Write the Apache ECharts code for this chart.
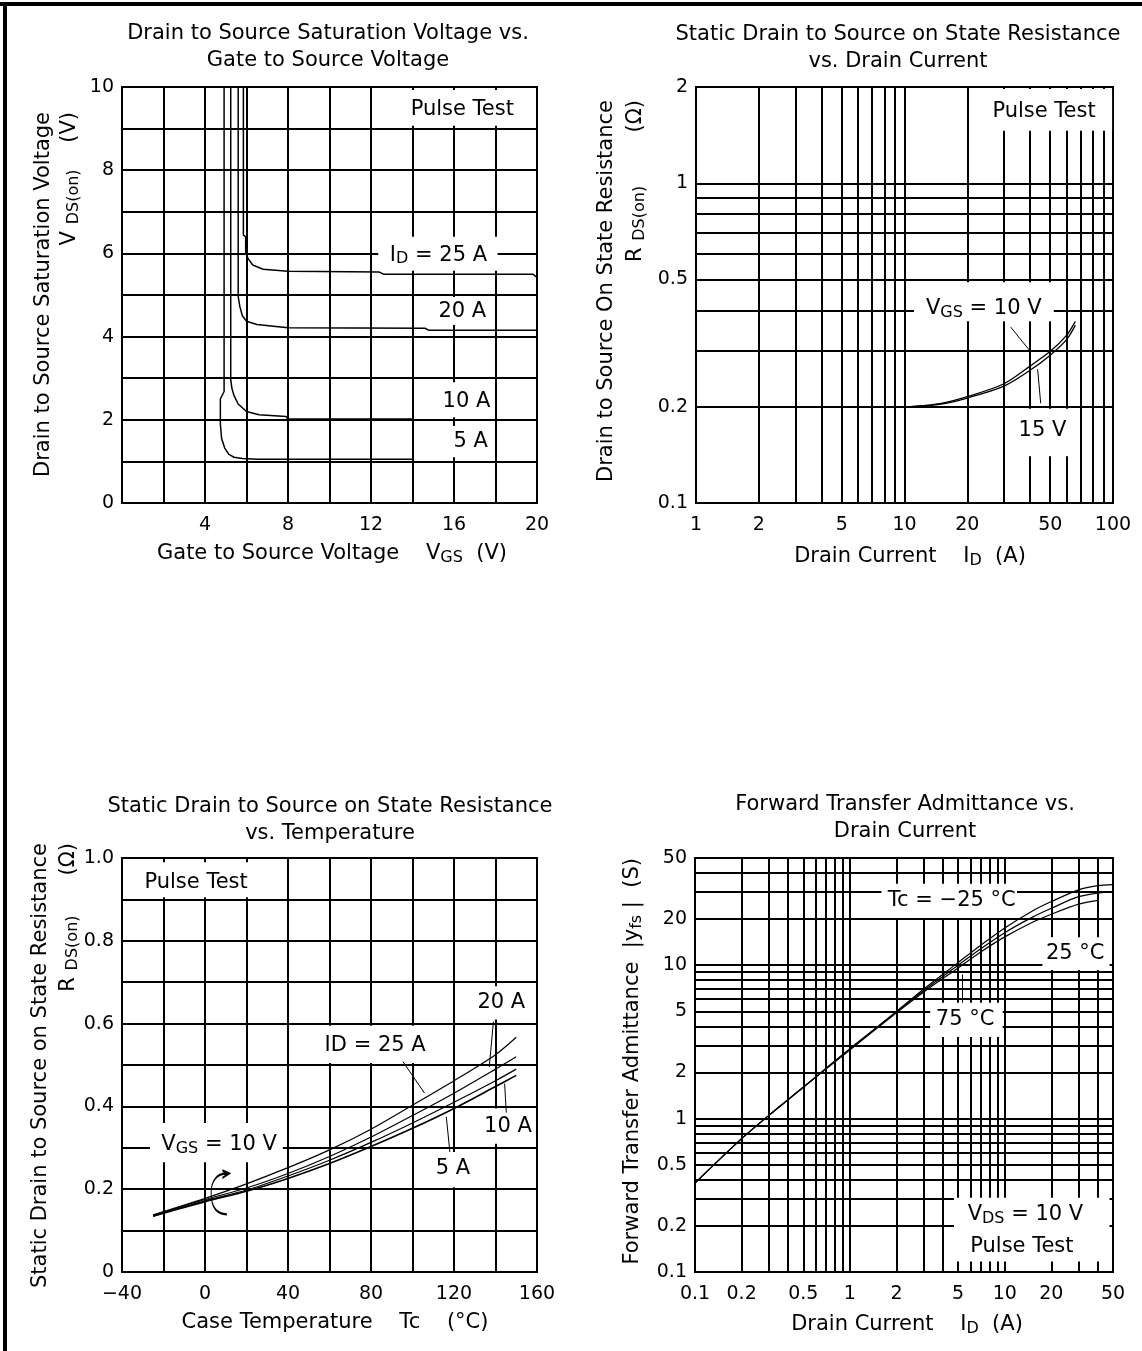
<!DOCTYPE html>
<html>
<head>
<meta charset="utf-8">
<script src="https://cdn.jsdelivr.net/npm/echarts@6/dist/echarts.min.js"></script>
<style>
  html, body { margin: 0; padding: 0; background: #fff; }
  #main { width: 1142px; height: 1351px; }
</style>
</head>
<body>
<div id="main"></div>
<script>
// ---- chart 1: VDS(on) vs VGS, [VGS (V), VDS(on) (V)]
var satId5 = [[4.92,10],[4.92,2.68],[4.74,2.5],[4.74,1.9],[4.8,1.55],[4.95,1.32],[5.15,1.17],[5.4,1.1],[5.8,1.07],[6.5,1.05],[14,1.05]];
var satId10 = [[5.24,10],[5.24,2.96],[5.3,2.75],[5.4,2.58],[5.6,2.38],[6.0,2.2],[6.6,2.12],[7.9,2.08],[8,2.02],[14,2.02]];
var satId20 = [[5.6,10],[5.6,4.96],[5.68,4.72],[5.8,4.5],[6.0,4.37],[6.5,4.29],[7.3,4.25],[8,4.21],[14.6,4.2],[14.8,4.15],[20,4.15]];
var satId25 = [[5.85,10],[5.85,6.44],[5.96,6.4],[5.96,6.04],[6.07,5.88],[6.3,5.72],[6.8,5.62],[8,5.57],[12.4,5.55],[12.6,5.5],[19.8,5.5],[20,5.42]];
var satXLabels = [4, 8, 12, 16, 20];
var satYLabels = [0, 2, 4, 6, 8, 10];

// ---- chart 2: RDS(on) vs ID, [ID (A), RDS(on) (ohm)]
var ronVgs10 = [[10.7,0.2],[15,0.205],[20,0.215],[30,0.236],[40,0.268],[50,0.298],[60,0.335],[66,0.37]];
var ronVgs15 = [[10.7,0.2],[15,0.204],[20,0.213],[30,0.232],[40,0.26],[50,0.29],[60,0.325],[66,0.36]];
var ronXLines = [1,2,3,4,5,6,7,8,9,10,20,30,40,50,60,70,80,90,100];
var ronYLines = [0.1,0.2,0.3,0.4,0.5,0.6,0.7,0.8,0.9,1,2];
var ronXLabels = [1, 2, 5, 10, 20, 50, 100];
var ronYLabels = [0.1, 0.2, 0.5, 1, 2];

// ---- chart 3: RDS(on) vs Tc, [Tc (degC), RDS(on) (ohm)]
var tempId5 = [[-25,0.135],[0,0.17],[20,0.195],[40,0.226],[60,0.262],[80,0.303],[100,0.347],[120,0.395],[140,0.448],[150,0.475]];
var tempId10 = [[-25,0.135],[0,0.172],[20,0.198],[40,0.232],[60,0.27],[80,0.313],[100,0.36],[120,0.41],[140,0.462],[150,0.49]];
var tempId20 = [[-25,0.137],[0,0.175],[20,0.203],[40,0.238],[60,0.279],[80,0.326],[100,0.378],[120,0.432],[140,0.49],[150,0.52]];
var tempId25 = [[-25,0.138],[0,0.178],[20,0.213],[40,0.252],[60,0.295],[80,0.345],[100,0.403],[120,0.462],[140,0.525],[150,0.567]];
var tempXLabels = [-40, 0, 40, 80, 120, 160];
var tempYLabels = [0, 0.2, 0.4, 0.6, 0.8, 1.0];

// ---- chart 4: |yfs| vs ID, [ID (A), |yfs| (S)]
var yfsTcM25 = [[0.1,0.38],[0.2,0.74],[0.3,1.05],[0.5,1.6],[1,2.85],[2,5.0],[3,7.0],[5,10.4],[7,13.5],[10,17.5],[15,22.5],[20,26],[30,31],[40,33],[50,33.5]];
var yfsTc25 = [[0.1,0.38],[0.2,0.74],[0.3,1.05],[0.5,1.6],[1,2.85],[2,4.95],[3,6.85],[5,10.0],[7,12.8],[10,16.3],[15,20.5],[20,23.5],[30,28],[45,30]];
var yfsTc75 = [[0.1,0.38],[0.2,0.74],[0.3,1.05],[0.5,1.6],[1,2.8],[2,4.9],[3,6.7],[5,9.6],[7,12.2],[10,15.3],[15,19],[20,21.5],[30,25],[40,26.5]];
var yfsXLines = [0.1,0.2,0.3,0.4,0.5,0.6,0.7,0.8,0.9,1,2,3,4,5,6,7,8,9,10,20,30,40,50];
var yfsYLines = [0.1,0.2,0.3,0.4,0.5,0.6,0.7,0.8,0.9,1,2,3,4,5,6,7,8,9,10,20,30,40,50];
var yfsXLabels = [0.1, 0.2, 0.5, 1, 2, 5, 10, 20, 50];
var yfsYLabels = [0.1, 0.2, 0.5, 1, 2, 5, 10, 20, 50];

var FONT = '"DejaVu Sans", sans-serif';
var FS = 21;       // titles, axis names, notes
var TICK_FS = 19;  // tick labels
var RICH = {
  n: { fontFamily: FONT, fontSize: FS, color: '#000' },
  s: { fontFamily: FONT, fontSize: 16, color: '#000', padding: [8, 0, 0, 0] }
};
var GRIDLINE = { color: '#000', width: 2 };

function labelStyle(values, margin, fmt) {
  return { customValues: values, color: '#000', fontFamily: FONT, fontSize: TICK_FS, margin: margin, formatter: fmt };
}

function linAxis(gi, min, max, step, labels, margin, fmt) {
  return {
    type: 'value', gridIndex: gi, min: min, max: max, interval: step,
    axisLine: { show: false }, axisTick: { show: false },
    splitLine: { show: true, lineStyle: GRIDLINE },
    axisLabel: labelStyle(labels, margin, fmt)
  };
}

function logAxis(gi, min, max, lines, labels, margin) {
  return {
    type: 'log', logBase: 10, gridIndex: gi, min: min, max: max,
    axisLine: { show: false },
    axisTick: { show: false, customValues: lines },
    splitLine: { show: true, lineStyle: GRIDLINE },
    axisLabel: labelStyle(labels, margin, function (v) { return String(v); })
  };
}

function curve(gi, data, width, smooth) {
  return {
    type: 'line', xAxisIndex: gi, yAxisIndex: gi, data: data, z: 3,
    showSymbol: false, symbol: 'none', smooth: smooth || false, silent: true,
    lineStyle: { color: '#000', width: width }
  };
}

// white label boxes, texts and leader arrows (all in data coordinates)
function notes(gi, boxes, texts, arrows) {
  return [
    {
      type: 'line', xAxisIndex: gi, yAxisIndex: gi, data: [], z: 1, silent: true,
      markArea: {
        silent: true, itemStyle: { color: '#fff' }, label: { show: false },
        data: boxes.map(function (b) { return [{ coord: [b[0], b[1]] }, { coord: [b[2], b[3]] }]; })
      }
    },
    {
      type: 'line', xAxisIndex: gi, yAxisIndex: gi, data: [], z: 5, silent: true,
      markPoint: {
        symbol: 'circle', symbolSize: 0, silent: true,
        label: { show: true, position: 'inside', color: '#000', fontFamily: FONT, fontSize: FS, rich: RICH },
        data: texts.map(function (t) { return { coord: [t[0], t[1]], label: { formatter: t[2] } }; })
      },
      markLine: {
        silent: true, symbol: ['none', 'arrow'], symbolSize: [0, 8], label: { show: false },
        lineStyle: { color: '#000', width: 1, type: 'solid' },
        data: arrows.map(function (a) { return [{ coord: [a[0], a[1]] }, { coord: [a[2], a[3]] }]; })
      }
    }
  ];
}

function txt(x, y, text, opts) {
  opts = opts || {};
  return {
    type: 'text', x: x, y: y, rotation: opts.rot || 0, z: 10,
    style: {
      text: text, fill: '#000', font: FS + 'px ' + FONT, rich: RICH,
      align: opts.align || 'center', verticalAlign: 'middle', lineHeight: opts.lh || 27
    }
  };
}

var chart = echarts.init(document.getElementById('main'), null, { renderer: 'canvas' });

var series = [
  curve(0, satId5, 1.5), curve(0, satId10, 1.5), curve(0, satId20, 1.5), curve(0, satId25, 1.5),
  curve(1, ronVgs10, 1.3, 0.3), curve(1, ronVgs15, 1.3, 0.3),
  curve(2, tempId5, 1.6, 0.3), curve(2, tempId10, 1.2, 0.3), curve(2, tempId20, 1.2, 0.3), curve(2, tempId25, 1.2, 0.3),
  curve(3, yfsTcM25, 1.2, 0.3), curve(3, yfsTc25, 1.2, 0.3), curve(3, yfsTc75, 1.2, 0.3)
];

series = series.concat(notes(0,
  [[13.8, 9.07, 19.0, 9.93], [12.35, 5.58, 18.1, 6.4], [14.8, 4.28, 17.9, 4.95], [15.3, 2.06, 17.9, 2.9], [15.7, 1.1, 17.9, 1.85]],
  [[16.4, 9.45, 'Pulse Test'], [15.25, 5.96, '{n|I}{s|D}{n| = 25 A}'], [16.4, 4.6, '20 A'], [16.6, 2.44, '10 A'], [16.8, 1.47, '5 A']],
  []));

series = series.concat(notes(1,
  [[27, 1.46, 99, 1.97], [11.1, 0.37, 52, 0.49], [37, 0.14, 65, 0.197]],
  [[46.7, 1.67, 'Pulse Test'], [24, 0.406, '{n|V}{s|GS}{n| = 10 V}'], [45.9, 0.169, '15 V']],
  [[32.3, 0.355, 40.3, 0.297], [45, 0.205, 43.5, 0.262]]));

series = series.concat(notes(2,
  [[-38, 0.905, 22, 0.99], [56, 0.505, 108, 0.595], [130, 0.61, 158, 0.69], [136, 0.31, 158, 0.395], [110, 0.205, 130, 0.29], [-26.5, 0.265, 37.5, 0.36]],
  [[-4.3, 0.94, 'Pulse Test'], [82, 0.548, 'ID = 25 A'], [142.8, 0.652, '20 A'], [146, 0.351, '10 A'], [119.5, 0.251, '5 A'], [6.8, 0.307, '{n|V}{s|GS}{n| = 10 V}']],
  [[95.4, 0.508, 105.8, 0.432], [139, 0.605, 137, 0.495], [145.2, 0.385, 144.4, 0.455], [118, 0.29, 116.3, 0.375]]));

series = series.concat(notes(3,
  [[1.6, 20.3, 12, 34], [17.5, 9.3, 47.5, 15.2], [3.3, 3.4, 9.7, 5.7], [4.7, 0.117, 47.5, 0.305]],
  [[4.55, 26.5, 'Tc = \u221225 \u00b0C'], [28.5, 11.9, '25 \u00b0C'], [5.55, 4.4, '75 \u00b0C'], [13.6, 0.236, '{n|V}{s|DS}{n| = 10 V}'], [12.9, 0.147, 'Pulse Test']],
  [[6.1, 20.3, 6.1, 13.6], [5.3, 5.7, 5.3, 8.7]]));

// loop marker around the VGS = 10 V curves of chart 3
series.push({
  type: 'line', xAxisIndex: 2, yAxisIndex: 2, data: [], z: 5, silent: true,
  markPoint: {
    silent: true,
    symbol: 'path://M16,4 C6,4 2,12 2,22 C2,34 6,42 16,42 M12,1 L18,4 L12,8',
    symbolSize: [18, 44], symbolKeepAspect: false,
    itemStyle: { color: 'rgba(0,0,0,0)', borderColor: '#000', borderWidth: 1.5 },
    label: { show: false },
    data: [{ coord: [7.3, 0.1925] }]
  }
});

var option = {
  backgroundColor: '#fff',
  animation: false,
  grid: [
    { left: 122, top: 87, width: 415, height: 416, show: true, borderColor: '#000', borderWidth: 2 },
    { left: 696, top: 87, width: 417, height: 416, show: true, borderColor: '#000', borderWidth: 2 },
    { left: 122, top: 858, width: 415, height: 414, show: true, borderColor: '#000', borderWidth: 2 },
    { left: 695, top: 858, width: 418, height: 414, show: true, borderColor: '#000', borderWidth: 2 }
  ],
  xAxis: [
    linAxis(0, 0, 20, 2, satXLabels, 13),
    logAxis(1, 1, 100, ronXLines, ronXLabels, 13),
    linAxis(2, -40, 160, 20, tempXLabels, 13, function (v) { return v < 0 ? '\u2212' + (-v) : String(v); }),
    logAxis(3, 0.1, 50, yfsXLines, yfsXLabels, 13)
  ],
  yAxis: [
    linAxis(0, 0, 10, 1, satYLabels, 8),
    logAxis(1, 0.1, 2, ronYLines, ronYLabels, 8),
    linAxis(2, 0, 1, 0.1, tempYLabels, 8, function (v) { return v === 0 ? '0' : v.toFixed(1); }),
    logAxis(3, 0.1, 50, yfsYLines, yfsYLabels, 8)
  ],
  series: series,
  graphic: [
    // page frame (top and left edges)
    { type: 'rect', shape: { x: 0, y: 2, width: 1142, height: 4 }, style: { fill: '#000' }, z: 20 },
    { type: 'rect', shape: { x: 3, y: 2, width: 4, height: 1349 }, style: { fill: '#000' }, z: 20 },
    // titles
    txt(328, 47, 'Drain to Source Saturation Voltage vs.\nGate to Source Voltage'),
    txt(898, 48, 'Static Drain to Source on State Resistance\nvs. Drain Current'),
    txt(330, 820, 'Static Drain to Source on State Resistance\nvs. Temperature'),
    txt(905, 818, 'Forward Transfer Admittance vs.\nDrain Current'),
    // x axis names
    txt(332, 554, '{n|Gate to Source Voltage    V}{s|GS}{n|  (V)}'),
    txt(910, 557, '{n|Drain Current    I}{s|D}{n|  (A)}'),
    txt(335, 1323, 'Case Temperature    Tc    (\u00b0C)'),
    txt(907, 1325, '{n|Drain Current    I}{s|D}{n|  (A)}'),
    // y axis names (rotated, aligned at top end)
    txt(44, 112, 'Drain to Source Saturation Voltage', { rot: Math.PI / 2, align: 'right' }),
    txt(70, 112, '{n|V }{s|DS(on)}{n|    (V)}', { rot: Math.PI / 2, align: 'right' }),
    txt(607, 100, 'Drain to Source On State Resistance', { rot: Math.PI / 2, align: 'right' }),
    txt(636, 100, '{n|R }{s|DS(on)}{n|        (\u03a9)}', { rot: Math.PI / 2, align: 'right' }),
    txt(41, 843, 'Static Drain to Source on State Resistance', { rot: Math.PI / 2, align: 'right' }),
    txt(69, 843, '{n|R }{s|DS(on)}{n|      (\u03a9)}', { rot: Math.PI / 2, align: 'right' }),
    txt(633, 858, '{n|Forward Transfer Admittance  |y}{s|fs}{n| |  (S)}', { rot: Math.PI / 2, align: 'right' })
  ]
};

chart.setOption(option);
</script>
</body>
</html>
